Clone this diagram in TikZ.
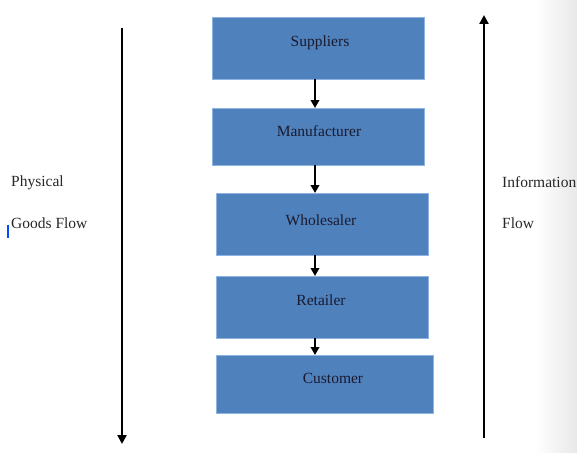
\documentclass[tikz,border=0pt]{standalone}
\usepackage{fontspec}
\setmainfont{Liberation Serif}
\usetikzlibrary{arrows.meta}
\definecolor{boxblue}{HTML}{4F81BD}
\definecolor{boxedge}{HTML}{8EB4E3}
\definecolor{txt}{HTML}{1A1A2E}
\begin{document}
\begin{tikzpicture}[x=1pt,y=-1pt,
  flowbox/.style={fill=boxblue,draw=boxedge,line width=0.6pt},
  lbl/.style={font=\fontsize{15.5}{18}\selectfont,text=txt,inner sep=0pt},
  sidelbl/.style={font=\fontsize{15.5}{18}\selectfont,text=black!85,inner sep=0pt,anchor=west},
  bigarrow/.style={line width=2.6pt,-{Triangle[length=9pt,width=9pt]}},
  smallarrow/.style={line width=2.2pt,-{Triangle[length=8pt,width=8.5pt]}}]
\useasboundingbox (0,0) rectangle (577,452);
\shade[left color=white,right color=black!9] (535,0) rectangle (577,452);
% boxes
\draw[flowbox] (212,17) rectangle (424,79);
\draw[flowbox] (212,108) rectangle (424,165);
\draw[flowbox] (216,193) rectangle (428,255);
\draw[flowbox] (216,276) rectangle (428,338);
\draw[flowbox] (216,355) rectangle (433,413);
\node[lbl] (sup) at (320,43) {Suppliers};
\node[lbl] (man) at (319,131) {Manufacturer};
\node[lbl] (who) at (321,220) {Wholesaler};
\node[lbl] (ret) at (321,300) {Retailer};
\node[lbl] (cus) at (333,378) {Customer};
\coordinate (s1) at (315,79);  \coordinate (e1) at (315,108);
\coordinate (s2) at (315,165); \coordinate (e2) at (315,193);
\coordinate (s3) at (315,255); \coordinate (e3) at (315,276);
\coordinate (s4) at (315,338); \coordinate (e4) at (315,355);
\draw[smallarrow] (s1) -- (e1);
\draw[smallarrow] (s2) -- (e2);
\draw[smallarrow] (s3) -- (e3);
\draw[smallarrow] (s4) -- (e4);
% side arrows
\coordinate (lt) at (122,28); \coordinate (lb) at (122,444);
\coordinate (rb) at (484,438); \coordinate (rt) at (484,15);
\draw[bigarrow] (lt) -- (lb);
\draw[bigarrow] (rb) -- (rt);
\node[sidelbl] (p1) at (11,183) {Physical};
\node[sidelbl] (p2) at (11,223) {Goods Flow};
\node[sidelbl] (i1) at (502,182) {Information};
\node[sidelbl] (i2) at (502,223) {Flow};
\fill[blue!70!cyan] (7,225) rectangle (9,238);
\end{tikzpicture}
\end{document}
